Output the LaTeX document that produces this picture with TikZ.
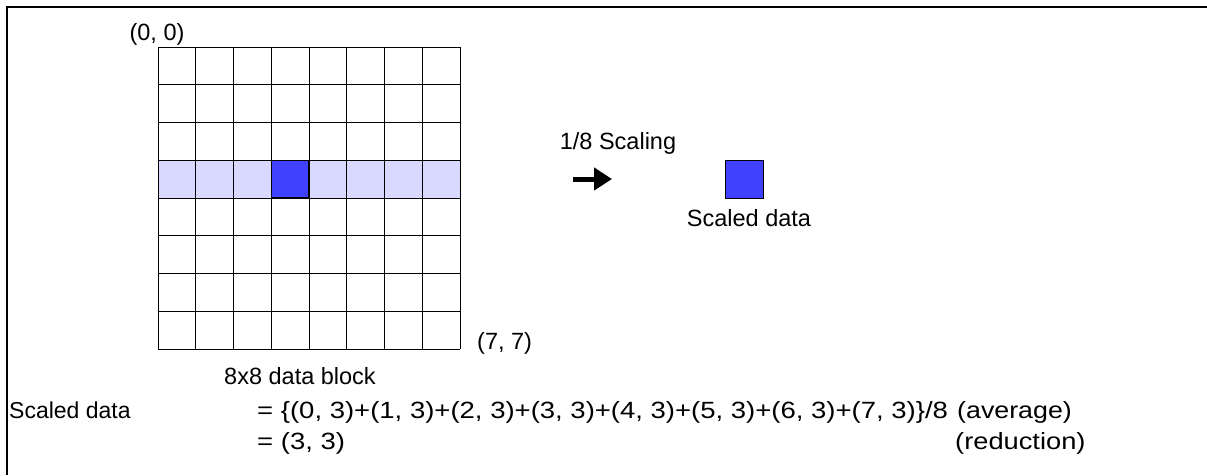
\documentclass[tikz,border=0pt]{standalone}
\usepackage{fontspec}
\setmainfont{Liberation Sans}
\usetikzlibrary{arrows.meta,positioning,calc}
\definecolor{rowblue}{HTML}{D9D9FF}
\definecolor{cellblue}{HTML}{4040FF}

\begin{document}
\begin{tikzpicture}[x=1pt,y=-1pt,
txt/.style={inner sep=0pt,font=\fontsize{23.5}{27}\selectfont},
formula/.style={inner sep=0pt,anchor=base west,font=\fontsize{23.5}{27}\selectfont},
cell/.style={draw,line width=1pt,minimum size=37.75pt,inner sep=0pt},
gridline/.style={line width=1pt}]
\useasboundingbox (0,0) rectangle (1207,475);
\draw[line width=2.5pt] (7,475) -- (7,7) -- (1207,7);
% 8x8 block
\fill[rowblue] (158,160.25) rectangle (460,198);
\node[cell,fill=cellblue] (src) at (290.1,179.1) {};
\foreach \i in {0,...,8}{
  \draw[gridline] (158+\i*37.75,47) -- (158+\i*37.75,349);
  \draw[gridline] (158,47+\i*37.75) -- (460,47+\i*37.75);
}
\node[txt] (topleft) at (157,34) {(0, 0)};
\node[txt,anchor=west] (botright) at (477,343) {(7, 7)};
\node[txt] (blocklbl) at (300,376) {8x8 data block};
% scaling step
\node[txt] (scalelbl) at (618,143) {1/8 Scaling};
\coordinate (arrL) at (573,179);
\coordinate (arrR) at (612,179);
\draw[line width=5pt,-{Triangle[length=18pt,width=22pt]}] (arrL) -- (arrR);
\node[cell,minimum size=38pt,fill=cellblue] (dst) at (744,179) {};
\node[txt,below=11pt of dst,xshift=5pt] (dstlbl) {Scaled data};
% formula
\node[formula,font=\fontsize{23}{27}\selectfont] (fname) at (9,418) {Scaled data};
\node[formula] (feq1) at (257,418) {\scalebox{1.17}[1]{= \{(0, 3)+(1, 3)+(2, 3)+(3, 3)+(4, 3)+(5, 3)+(6, 3)+(7, 3)\}/8}};
\node[formula] (fnote1) at (957,418) {\scalebox{1.14}[1]{(average)}};
\node[formula] (feq2) at (257,449) {\scalebox{1.17}[1]{= (3, 3)}};
\node[formula] (fnote2) at (955,449) {\scalebox{1.16}[1]{(reduction)}};
\end{tikzpicture}
\end{document}
